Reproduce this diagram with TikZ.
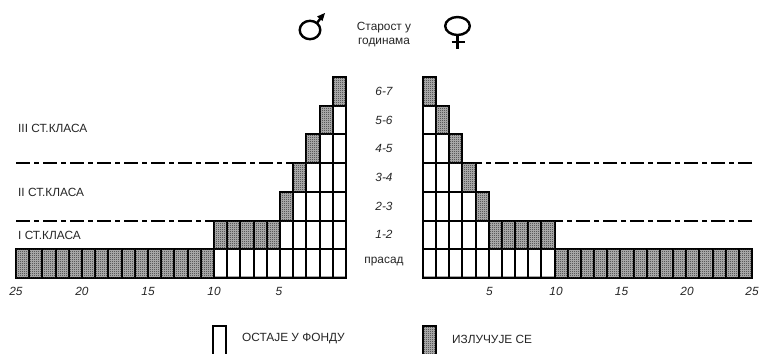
\documentclass[tikz,border=0pt]{standalone}
\usepackage{fontspec}
\setmainfont{Liberation Sans}
\usetikzlibrary{patterns}
\pgfdeclarepatternformonly{pixcheck}{\pgfpointorigin}{\pgfqpoint{2bp}{2bp}}{\pgfqpoint{2bp}{2bp}}{%
  \pgfpathrectangle{\pgfpointorigin}{\pgfqpoint{1bp}{1bp}}%
  \pgfpathrectangle{\pgfqpoint{1bp}{1bp}}{\pgfqpoint{1bp}{1bp}}%
  \pgfusepath{fill}}
\tikzset{
  x=1bp,y=-1bp,
  cellw/.style={draw=black,line width=2bp,fill=white},
  cellg/.style={draw=black,line width=2bp,fill=gray!55,postaction={pattern=pixcheck,pattern color=black!85}},
  lbl/.style={font=\fontsize{11.9}{14}\selectfont,text=black!85,inner sep=0pt},
  num/.style={font=\fontsize{11.9}{14}\selectfont\itshape,text=black!85,inner sep=0pt},
  sep/.style={line width=2bp,dash pattern=on 14bp off 4bp on 5bp off 4bp},
  sym/.style={line width=2.4bp},
  shade/.style={draw=black!35,line width=1bp}
}
\newcommand{\cellgen}[4]{% x1 x2 row style
  \pgfmathsetmacro{\ya}{round(278-28.72*#3)}
  \pgfmathsetmacro{\yb}{round(278-28.72*(#3+1))}
  \draw[#4] (#1,\ya) rectangle (#2,\yb);
}
\newcommand{\cellL}[3]{%
  \pgfmathsetmacro{\xa}{round(346-13.2*(#1-1))}
  \pgfmathsetmacro{\xb}{round(346-13.2*#1)}
  \cellgen{\xa}{\xb}{#2}{#3}}
\newcommand{\cellR}[3]{%
  \pgfmathsetmacro{\xa}{round(423+13.16*(#1-1))}
  \pgfmathsetmacro{\xb}{round(423+13.16*#1)}
  \cellgen{\xa}{\xb}{#2}{#3}}
\begin{document}
\begin{tikzpicture}
\useasboundingbox (0,0) rectangle (760,353);
\fill[white] (0,0) rectangle (760,353);
% separators
\coordinate (sl1) at (16,163); \coordinate (sl1e) at (306,163);
\coordinate (sl2) at (16,221); \coordinate (sl2e) at (279,221);
\coordinate (sr1) at (476,163); \coordinate (sr1e) at (752,163);
\coordinate (sr2) at (556,221); \coordinate (sr2e) at (752,221);
\draw[sep] (sl1) -- (sl1e);
\draw[sep] (sl2) -- (sl2e);
\draw[sep] (sr1e) -- (sr1);
\draw[sep] (sr2e) -- (sr2);
% rows
\foreach \c in {1,...,10}{\cellL{\c}{0}{cellw}\cellR{\c}{0}{cellw}}
\foreach \c in {11,...,25}{\cellL{\c}{0}{cellg}\cellR{\c}{0}{cellg}}
\foreach \c in {1,...,5}{\cellL{\c}{1}{cellw}\cellR{\c}{1}{cellw}}
\foreach \c in {6,...,10}{\cellL{\c}{1}{cellg}\cellR{\c}{1}{cellg}}
\foreach \r/\n in {2/5,3/4,4/3,5/2,6/1}{
  \pgfmathtruncatemacro{\m}{\n-1}
  \ifnum\m>0
    \foreach \c in {1,...,\m}{\cellL{\c}{\r}{cellw}\cellR{\c}{\r}{cellw}}
  \fi
  \cellL{\n}{\r}{cellg}\cellR{\n}{\r}{cellg}
}
% faint inner line along the foot of the white cells
\draw[shade] (214,276.5) -- (345,276.5);
\draw[shade] (424,276.5) -- (555,276.5);
\draw[black,line width=2bp] (213,278) -- (346,278);
\draw[black,line width=2bp] (423,278) -- (555,278);
\foreach \c in {0,...,10}{
  \pgfmathsetmacro{\xa}{round(346-13.2*\c)}
  \pgfmathsetmacro{\xb}{round(423+13.16*\c)}
  \draw[black,line width=2bp] (\xa,250) -- (\xa,279);
  \draw[black,line width=2bp] (\xb,250) -- (\xb,279);
}
% age labels
\node[num] (a7) at (384,91) {6-7};
\node[num] (a6) at (384,120) {5-6};
\node[num] (a5) at (384,148) {4-5};
\node[num] (a4) at (384,177) {3-4};
\node[num] (a3) at (384,206) {2-3};
\node[num] (a2) at (384,234) {1-2};
\node[lbl] (a1) at (384,262) {прасад};
% classes
\node[lbl,anchor=west] (k3) at (18,128) {III СТ.КЛАСА};
\node[lbl,anchor=west] (k2) at (18,192) {II СТ.КЛАСА};
\node[lbl,anchor=west] (k1) at (18,235) {I СТ.КЛАСА};
% scales
\node[num] (l25) at (16,291) {25};
\node[num] (l20) at (82,291) {20};
\node[num] (l15) at (148,291) {15};
\node[num] (l10) at (214,291) {10};
\node[num] (l5) at (279,291) {5};
\node[num] (r5) at (489.5,291) {5};
\node[num] (r10) at (556,291) {10};
\node[num] (r15) at (621.5,291) {15};
\node[num] (r20) at (687,291) {20};
\node[num] (r25) at (752,291) {25};
% header
\node[lbl,align=center] (hdr) at (384,34.5) {Старост у\\годинама};
\draw[sym] (310,30) ellipse (10.3 and 9.2);
\coordinate (mA) at (317,23);
\coordinate (mB) at (323,15);
\draw[sym] (mA) -- (mB);
\fill (325,13) -- (317,16.5) -- (322.5,21) -- cycle;
\draw[sym] (457.5,26) ellipse (12.3 and 9);
\coordinate (fA) at (457.5,35);
\coordinate (fB) at (457.5,48.5);
\coordinate (fC) at (451.5,42);
\coordinate (fD) at (464.5,42);
\draw[sym] (fA) -- (fB);
\draw[sym] (fC) -- (fD);
% legend
\draw[cellw] (213,326) rectangle (226,356);
\node[lbl,anchor=west] (lg1) at (242,339) {ОСТАЈЕ У ФОНДУ};
\draw[cellg] (423,326) rectangle (436,356);
\node[lbl,anchor=west] (lg2) at (452,339) {ИЗЛУЧУЈЕ СЕ};
\end{tikzpicture}
\end{document}
